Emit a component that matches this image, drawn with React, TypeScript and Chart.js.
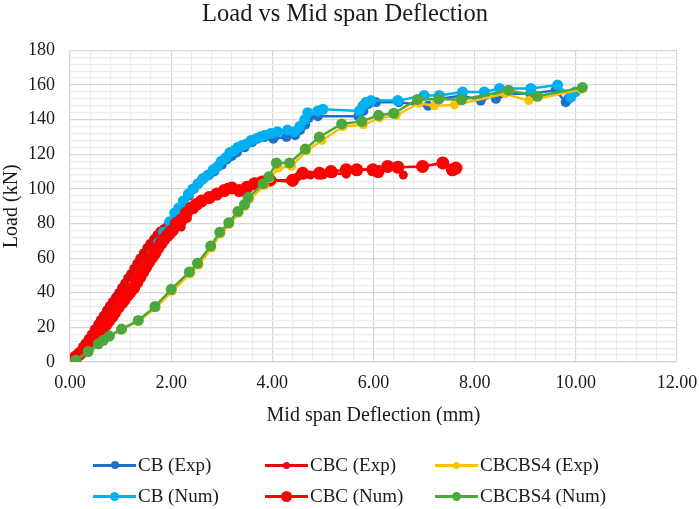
import React, { useEffect, useRef } from "react";
import { Chart, registerables } from "chart.js";

Chart.register(...registerables);

// ---------- data ----------
const CB_EXP_X = [0, 0.22, 0.45, 0.7, 0.9, 1.1, 1.28, 1.45, 1.57, 1.7, 1.82, 1.95, 2.1, 2.24, 2.35, 2.45, 2.6, 2.75, 2.85, 3.0, 3.1, 3.2, 3.3, 3.45, 3.6, 3.7, 3.85, 4.02, 4.28, 4.45, 4.55, 4.65, 4.72, 4.9, 5.7, 5.8, 5.9, 6.05, 6.5, 7.08, 7.3, 7.75, 8.12, 8.2, 8.42, 8.5, 9.1, 9.6, 9.8, 9.85, 9.9];
const CB_EXP_Y = [0, 5, 11, 20, 28, 36.5, 44, 53, 59, 66, 73, 80, 86, 92, 96, 100, 105, 108, 110, 114, 117, 119, 121, 124, 127, 129, 130, 129, 130, 131, 134, 137, 141, 142, 142, 145, 149, 150, 150, 148, 152, 154, 151, 154, 152, 155, 155, 157, 150, 152, 154];

const CB_NUM_X = [0, 0.2, 0.4, 0.62, 0.85, 1.05, 1.25, 1.42, 1.55, 1.65, 1.75, 1.85, 1.97, 2.07, 2.15, 2.24, 2.34, 2.43, 2.53, 2.63, 2.73, 2.83, 2.92, 2.99, 3.08, 3.16, 3.24, 3.32, 3.4, 3.49, 3.58, 3.68, 3.76, 3.85, 3.97, 4.1, 4.3, 4.44, 4.54, 4.64, 4.7, 4.9, 5.0, 5.72, 5.79, 5.85, 5.95, 6.48, 7.0, 7.3, 7.76, 8.19, 8.49, 9.11, 9.64, 9.9, 9.99];
const CB_NUM_Y = [0, 4, 9, 17, 26, 34, 42, 51, 58, 63, 69, 75, 81, 86, 89, 93, 97, 100, 103, 106, 108, 111, 113, 116, 118, 121, 122, 124, 125, 126, 128, 129, 130, 131, 132, 133, 134, 133, 136, 140, 144, 145, 146, 145, 148, 150, 151, 151, 154, 154, 156, 156, 158, 158, 160, 153, 156];

const CBC_EXP_X = [0, 0.04, 0.08, 0.13, 0.18, 0.25, 0.3, 0.36, 0.42, 0.48, 0.55, 0.6, 0.66, 0.72, 0.78, 0.84, 0.9, 0.96, 1.02, 1.08, 1.14, 1.2, 1.26, 1.32, 1.38, 1.45, 1.52, 1.58, 1.65, 1.72, 1.78, 1.85, 1.92, 2.02, 2.1, 2.2, 2.32, 2.45, 2.6, 2.75, 2.9, 3.02, 3.12, 3.25, 3.36, 3.5, 3.62, 3.75, 3.9, 4.0, 4.4, 4.5, 4.75, 5.0, 5.2, 5.46, 5.66, 5.95, 6.1, 6.28, 6.5, 6.59];
const CBC_EXP_Y = [0, 1.5, 3, 4.5, 6, 9, 11, 13.5, 16, 19, 22, 24.5, 27, 30, 32.5, 35, 37.5, 40, 43, 45.5, 48.5, 51, 54, 57, 60, 63, 66, 68.5, 71, 73.5, 75.5, 77, 78, 78.5, 77.5, 78, 83, 88, 92, 95, 97, 99, 101, 100, 98.5, 101, 102, 104, 105, 105, 104, 107, 108, 108, 109, 108.5, 111, 111.5, 111, 112.5, 113.5, 108];

const CBC_NUM_X = [0, 0.06, 0.12, 0.18, 0.24, 0.3, 0.36, 0.42, 0.48, 0.54, 0.6, 0.66, 0.72, 0.77, 0.83, 0.89, 0.95, 1.01, 1.07, 1.13, 1.19, 1.26, 1.32, 1.38, 1.44, 1.5, 1.56, 1.62, 1.68, 1.74, 1.8, 1.86, 1.92, 1.97, 2.02, 2.1, 2.2, 2.3, 2.4, 2.5, 2.6, 2.75, 2.9, 3.05, 3.2, 3.35, 3.5, 3.65, 3.8, 3.95, 4.4, 4.6, 4.93, 5.16, 5.46, 5.67, 5.99, 6.09, 6.28, 6.48, 6.97, 7.37, 7.56, 7.63];
const CBC_NUM_Y = [0, 1.5, 3, 4.5, 6, 8, 9.5, 11.5, 13.5, 15.5, 18, 20, 22, 24, 26.5, 29, 31.5, 34, 36, 38.5, 40.5, 43, 46, 49, 52, 55, 58, 60.5, 63, 66, 68.5, 71, 73, 74.5, 76, 80, 82, 86, 89, 91, 93, 95, 97, 99, 100.5, 99, 101, 103, 104, 105, 105, 109, 109, 110, 111, 111, 111, 110, 113, 112.5, 113, 115, 111, 112];

const CBCBS4_EXP_X = [0.1, 0.35, 0.55, 0.75, 1.0, 1.35, 1.7, 2.02, 2.38, 2.55, 2.8, 2.98, 3.15, 3.34, 3.46, 3.55, 3.85, 3.95, 4.12, 4.38, 4.68, 4.98, 5.4, 5.8, 6.12, 6.45, 6.9, 7.2, 7.6, 8.6, 9.07, 10.1];
const CBCBS4_EXP_Y = [1, 5.5, 10, 14.5, 18.5, 23.5, 31.5, 41, 51, 56, 66, 74, 79.5, 86, 90, 94, 102, 106, 112, 113, 122, 128, 136, 137, 141, 142.5, 149.5, 148, 148.5, 155, 151, 157.5];

const CBCBS4_NUM_X = [0.12, 0.36, 0.56, 0.66, 0.78, 1.02, 1.35, 1.68, 2.0, 2.36, 2.52, 2.78, 2.96, 3.14, 3.32, 3.45, 3.52, 3.82, 3.93, 4.08, 4.34, 4.65, 4.93, 5.37, 5.77, 6.1, 6.4, 6.87, 7.29, 7.74, 8.67, 9.24, 10.13];
const CBCBS4_NUM_Y = [1, 6, 10.5, 12.5, 15, 19, 24, 32, 42, 52, 57, 67, 75, 80.5, 87, 91, 95, 103, 107, 115, 115, 123, 130, 137.5, 139, 142.5, 143.7, 151.7, 151.9, 151.5, 157, 153.5, 158.6];

const X_LABELS = ["0.00", "2.00", "4.00", "6.00", "8.00", "10.00", "12.00"];
const Y_LABELS = ["0", "20", "40", "60", "80", "100", "120", "140", "160", "180"];

const TITLE = "Load vs Mid span Deflection";
const X_TITLE = "Mid span Deflection (mm)";
const Y_TITLE = "Load (kN)";

// ---------- styles ----------
const X_MAX = 12, X_MINOR = 0.4, X_MAJOR = 2;
const Y_MAX = 180, Y_MINOR = 4, Y_MAJOR = 20;

const SERIES = [
  { label: "CBCBS4 (Num)", xs: CBCBS4_NUM_X, ys: CBCBS4_NUM_Y, color: "#4CA83D", r: 5.5 },
  { label: "CBCBS4 (Exp)", xs: CBCBS4_EXP_X, ys: CBCBS4_EXP_Y, color: "#FFC000", r: 4.5 },
  { label: "CBC (Num)", xs: CBC_NUM_X, ys: CBC_NUM_Y, color: "#FF0000", r: 6.5 },
  { label: "CB (Num)", xs: CB_NUM_X, ys: CB_NUM_Y, color: "#00B0F0", r: 5.5 },
  { label: "CBC (Exp)", xs: CBC_EXP_X, ys: CBC_EXP_Y, color: "#E00A0A", r: 4.5 },
  { label: "CB (Exp)", xs: CB_EXP_X, ys: CB_EXP_Y, color: "#1E6FC8", r: 5 },
];

const LEGEND_ORDER = ["CB (Exp)", "CBC (Exp)", "CBCBS4 (Exp)", "CB (Num)", "CBC (Num)", "CBCBS4 (Num)"];
const LEGEND_COLS = [93, 265, 435];
const LEGEND_ROWS = [465, 496];

const FONT = "'Liberation Serif', 'Times New Roman', serif";
const TEXT = "#1a1a1a";

function majorIndex(v: number, step: number) {
  const r = v / step;
  const n = Math.round(r);
  return Math.abs(r - n) < 1e-6 ? n : -1;
}

export default function App() {
  const ref = useRef<HTMLCanvasElement | null>(null);

  useEffect(() => {
    if (!ref.current) return;
    const chart = new Chart(ref.current, {
      type: "line",
      data: {
        datasets: SERIES.map((s) => ({
          label: s.label,
          data: s.xs.map((x, i) => ({ x, y: s.ys[i] })),
          borderColor: s.color,
          backgroundColor: s.color,
          pointBackgroundColor: s.color,
          pointBorderColor: s.color,
          pointRadius: s.r,
          pointBorderWidth: 0,
          borderWidth: 2.5,
          tension: 0,
          showLine: true,
          fill: false,
        })),
      },
      options: {
        animation: false,
        responsive: false,
        devicePixelRatio: 1,
        layout: { padding: { left: 13, right: 22, top: 0, bottom: 77 } },
        plugins: {
          legend: { display: false },
          tooltip: { enabled: false },
          title: {
            display: true,
            text: TITLE,
            color: TEXT,
            font: { family: FONT, size: 24.5, weight: "normal" },
            padding: { top: 0, bottom: 21 },
          },
        },
        scales: {
          x: {
            type: "linear",
            min: 0,
            max: X_MAX,
            ticks: {
              stepSize: X_MINOR,
              autoSkip: false,
              maxRotation: 0,
              padding: 10,
              color: TEXT,
              font: { family: FONT, size: 18 },
              callback: (v: any) => {
                const i = majorIndex(Number(v), X_MAJOR);
                return i >= 0 ? X_LABELS[i] : "";
              },
            },
            grid: {
              drawTicks: false,
              color: (ctx: any) =>
                ctx.tick && majorIndex(ctx.tick.value, X_MAJOR) >= 0 ? "#d6d6d6" : "#ebebeb",
              lineWidth: 1.2,
            },
            border: { color: "#d6d6d6", width: 1.2 },
            title: {
              display: true,
              text: X_TITLE,
              color: TEXT,
              font: { family: FONT, size: 20 },
              padding: { top: 4, bottom: 4 },
            },
            afterFit: (s: any) => {
              s.height = 70;
              s.paddingLeft = 0;
              s.paddingRight = 0;
            },
          },
          y: {
            type: "linear",
            min: 0,
            max: Y_MAX,
            ticks: {
              stepSize: Y_MINOR,
              autoSkip: false,
              padding: 15,
              color: TEXT,
              font: { family: FONT, size: 18 },
              callback: (v: any) => {
                const i = majorIndex(Number(v), Y_MAJOR);
                return i >= 0 ? Y_LABELS[i] : "";
              },
            },
            grid: {
              drawTicks: false,
              color: (ctx: any) =>
                ctx.tick && majorIndex(ctx.tick.value, Y_MAJOR) >= 0 ? "#d6d6d6" : "#ebebeb",
              lineWidth: 1.2,
            },
            border: { color: "#d6d6d6", width: 1.2 },
            title: {
              display: true,
              text: Y_TITLE,
              color: TEXT,
              font: { family: FONT, size: 20 },
              padding: { top: -13, bottom: 0 },
            },
            afterFit: (s: any) => {
              s.width = 57;
            },
          },
        },
      } as any,
    });
    return () => chart.destroy();
  }, []);

  return (
    <div style={{ position: "fixed", left: 0, top: 0, width: 699, height: 509, background: "#fff", overflow: "hidden" }}>
      <canvas ref={ref} width={699} height={509} style={{ width: 699, height: 509, display: "block" }} />
      {LEGEND_ORDER.map((name, k) => {
        const s = SERIES.find((q) => q.label === name)!;
        const col = k % 3;
        const row = Math.floor(k / 3);
        const d = Math.max(7, s.r * 2 - 2);
        return (
          <div
            key={name}
            style={{
              position: "absolute",
              left: LEGEND_COLS[col],
              top: LEGEND_ROWS[row] - 12,
              height: 24,
              display: "flex",
              alignItems: "center",
              fontFamily: FONT,
              fontSize: 19,
              color: TEXT,
              whiteSpace: "nowrap",
            }}
          >
            <div style={{ position: "relative", width: 43, height: 24, marginRight: 2 }}>
              <div style={{ position: "absolute", left: 0, right: 0, top: 10.5, height: 3, background: s.color }} />
              <div
                style={{
                  position: "absolute",
                  left: 21.5 - d / 2,
                  top: 12 - d / 2,
                  width: d,
                  height: d,
                  borderRadius: "50%",
                  background: s.color,
                }}
              />
            </div>
            <span>{name}</span>
          </div>
        );
      })}
    </div>
  );
}
